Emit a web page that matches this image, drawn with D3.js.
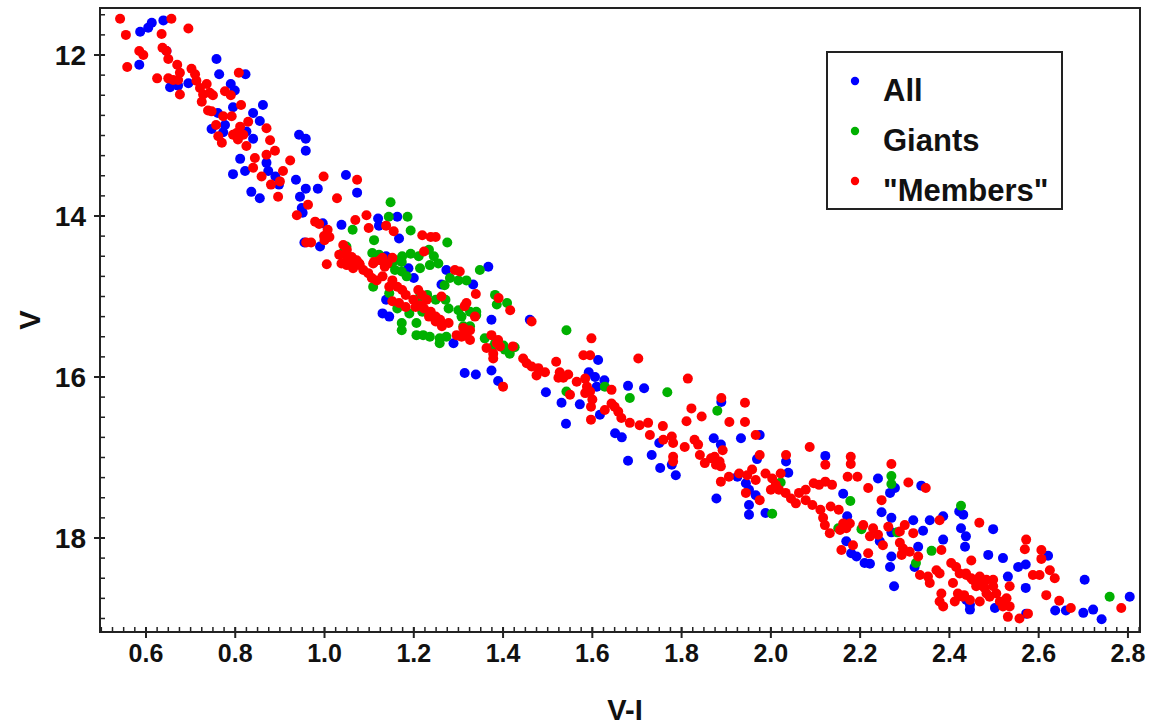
<!DOCTYPE html>
<html><head><meta charset="utf-8">
<script src="https://cdn.jsdelivr.net/npm/d3@7"></script>
<style>body{margin:0;background:#fff}svg{display:block}text{font-family:"Liberation Sans",Arial,sans-serif;font-weight:bold;fill:#111}</style>
</head><body><svg id="c" width="1155" height="728"></svg>
<script>
// ---- data (V-I, V) ----
const allPoints = [
[0.613,11.60],[0.587,11.71],[0.605,11.66],[0.639,11.57],[0.646,11.95],[0.585,12.12],[0.758,12.05],[0.654,12.40],[0.672,12.38],[0.695,12.35],[0.823,12.24],[0.764,12.24],[0.79,12.36],[0.799,12.44],[0.761,12.72],[0.795,12.65],[0.862,12.62],[0.84,12.72],[0.855,12.82],[0.747,12.92],[0.777,12.87],[0.825,12.95],[0.84,13.04],[0.773,12.96],[0.811,13.29],[0.822,13.44],[0.87,13.34],[0.795,13.48],[0.874,13.44],[0.943,12.99],
[0.958,13.04],[0.958,13.19],[0.89,13.51],[0.898,13.61],[0.836,13.70],[0.855,13.78],[0.936,13.55],[0.958,13.66],[0.945,13.76],[0.985,13.66],[1.048,13.49],[1.073,13.71],[0.949,13.90],[0.951,13.96],[0.996,14.09],[1.038,14.11],[1.12,14.03],[1.122,14.12],[1.163,14.01],[1.167,14.28],[0.955,14.33],[0.99,14.38],[1.138,14.5],
[1.367,14.63],[1.273,14.67],[1.262,14.85],[1.333,14.85],[1.188,14.65],[1.2,14.77],[1.138,15.04],[1.13,15.21],[1.145,15.25],[1.374,15.29],[1.289,15.58],
[1.46,15.29],[1.374,15.92],[1.389,16.05],[1.314,15.95],[1.339,15.97],[1.613,15.79],[1.592,15.94],[1.606,16.0],[1.627,16.04],[1.68,16.11],[1.716,16.14],[1.496,16.19],[1.531,16.32],[1.572,16.34],[1.617,16.47],[1.541,16.58],[1.61,16.12],
[1.75,16.82],[1.733,16.97],[1.752,17.13],[1.787,17.22],[1.778,17.09],[1.872,16.76],[1.888,16.84],[1.933,16.76],[1.975,16.72],[1.969,17.02],[2.034,17.05],[2.039,17.19],[2.122,16.98],[1.925,17.24],[1.944,17.32],[1.951,17.40],[1.966,17.47],[1.878,17.51],[1.951,17.59],[1.951,17.71],[1.988,17.69],[2.162,17.45],[2.171,17.73],[1.889,16.31],
[2.24,17.26],[2.278,17.38],[2.267,17.44],[2.337,17.35],[2.248,17.68],[2.27,17.75],[2.319,17.78],[2.356,17.78],[2.386,17.73],[2.341,17.91],[2.422,17.67],[2.431,17.71],[2.27,17.93],[2.169,18.04],[2.18,18.19],[2.192,18.23],[2.21,18.31],[2.222,18.32],[2.27,18.23],[2.267,18.36],[2.276,18.6],[2.244,18.04],[2.322,18.36],[2.33,18.11],[2.386,18.02],[2.426,17.88],[2.437,17.98],[2.435,18.11],[2.487,18.21],[2.438,18.77],[2.446,18.89],
[2.498,17.89],[2.621,18.22],[2.52,18.25],[2.554,18.36],[2.571,18.33],[2.531,18.48],[2.571,18.62],[2.637,18.9],[2.661,18.9],[2.703,18.52],[2.7,18.93],[2.722,18.89],[2.741,19.01],[2.804,18.73],[2.446,18.83],[2.502,18.87],[2.572,18.94],
[1.651,16.70],[1.666,16.75],[1.68,17.04]
];
const giantsPoints = [
[1.063,14.17],[1.148,13.83],[1.144,14.01],[1.186,14.01],[1.193,14.18],[1.111,14.30],[1.049,14.38],[1.041,14.46],[1.107,14.46],[1.122,14.48],[1.159,14.55],[1.174,14.5],[1.193,14.47],[1.211,14.5],[1.234,14.42],[1.245,14.5],[1.236,14.61],[1.255,14.59],
[1.275,14.33],[1.348,14.67],[1.281,14.77],[1.3,14.8],[1.318,14.8],[1.269,14.86],[1.15,14.59],[1.173,14.57],[1.158,14.67],[1.173,14.69],[1.184,14.75],[1.214,14.65],[1.109,14.88],[1.145,14.96],[1.214,15.0],[1.23,14.98],[1.249,15.04],[1.271,15.04],[1.163,15.15],[1.19,15.21],[1.219,15.19],[1.278,15.15],[1.3,15.17],[1.307,15.25],[1.326,15.19],[1.311,15.37],[1.326,15.37],[1.382,14.98],[1.386,15.1],[1.409,15.08],[1.173,15.33],[1.173,15.42],[1.206,15.33],[1.206,15.48],[1.221,15.48],[1.236,15.5],[1.258,15.52],[1.273,15.5],[1.258,15.58],[1.359,15.52],[1.382,15.58],[1.404,15.66],[1.415,15.71],[1.374,15.64],
[1.34,15.19],[1.34,15.23],[1.401,15.61],[1.426,15.63],[1.542,15.42],[1.628,16.12],[1.768,16.19],[1.684,16.26],[1.542,16.18],
[1.88,16.42],[2.003,17.7],[2.022,17.31],[2.178,17.54],
[2.27,17.23],[2.27,17.33],[2.151,17.88],[2.203,17.89],[2.283,17.93],[2.325,18.31],[2.36,18.16],[2.426,17.6],
[2.759,18.73]
];
const membersPoints = [
[0.542,11.55],[0.657,11.55],[0.555,11.75],[0.635,11.74],[0.695,11.67],[0.585,11.95],[0.594,12.0],[0.637,11.91],[0.646,11.95],[0.65,12.05],[0.558,12.15],[0.67,12.12],[0.676,12.22],[0.672,12.31],[0.702,12.17],[0.71,12.24],[0.713,12.32],[0.625,12.29],[0.65,12.29],[0.661,12.31],[0.676,12.49],[0.721,12.41],[0.736,12.36],[0.743,12.47],[0.75,12.50],[0.728,12.49],[0.725,12.58],[0.808,12.22],[0.777,12.45],[0.79,12.50],[0.739,12.69],[0.747,12.70],[0.813,12.62],[0.773,12.76],[0.792,12.76],[0.757,12.87],[0.829,12.83],[0.811,12.89],[0.803,12.97],[0.795,12.99],[0.818,12.99],[0.806,13.05],[0.87,12.91],[0.762,13.01],[0.77,13.09],[0.825,13.13],[0.878,13.06],[0.889,13.19],[0.87,13.24],[0.923,13.31],[0.844,13.28],[0.84,13.40],[0.907,13.44],[0.859,13.51],
[0.88,13.61],[0.90,13.57],[0.896,13.76],[0.998,13.51],[1.073,13.55],[1.028,13.78],[0.963,13.86],[0.938,13.99],[0.979,14.07],[0.988,14.10],[1.007,14.17],[0.999,14.25],[1.011,14.26],[1.069,14.05],[1.094,13.99],[1.099,14.15],[1.138,14.12],[1.155,14.19],[1.219,14.24],[1.238,14.26],[1.249,14.26],[0.959,14.33],[0.97,14.33],[1.0,14.3],[1.033,14.48],[1.049,14.5],[1.067,14.55],[1.005,14.6],[1.111,14.57],[1.13,14.52],[1.141,14.59],[1.152,14.52],[1.223,14.44],[1.059,14.59],[1.078,14.59],
[1.042,14.36],[1.05,14.42],[1.061,14.51],[1.072,14.55],[1.079,14.61],[1.087,14.67],[1.098,14.71],[1.106,14.77],[1.117,14.8],[1.109,14.59],[1.124,14.55],[1.135,14.63],[1.05,14.61],[1.064,14.65],[1.038,14.59],
[1.292,14.67],[1.303,14.69],[1.13,14.75],[1.152,14.8],[1.145,14.88],[1.163,14.88],[1.174,14.92],[1.182,14.98],[1.21,14.92],[1.218,14.98],[1.199,15.04],[1.214,15.11],[1.229,15.04],[1.262,15.0],[1.152,15.06],[1.167,15.08],[1.182,15.13],[1.204,15.13],[1.223,15.15],[1.238,15.19],[1.249,15.25],[1.259,15.29],[1.278,15.33],[1.234,15.25],[1.249,15.31],[1.263,15.37],[1.318,15.08],[1.314,15.12],[1.337,15.25],[1.39,15.02],[1.416,15.17],[1.296,15.48],[1.307,15.5],[1.318,15.48],[1.326,15.54],[1.363,15.64],[1.378,15.71],[1.386,15.58],[1.393,15.62],[1.422,15.62],
[1.339,14.97],[1.464,15.31],[1.311,15.39],[1.326,15.42],[1.374,15.48],[1.389,15.54],[1.378,15.77],[1.4,16.12],[1.598,15.52],[1.445,15.77],[1.453,15.83],[1.464,15.87],[1.479,15.89],[1.494,15.94],[1.475,15.98],[1.519,15.81],[1.527,15.94],[1.524,16.01],[1.535,16.01],[1.546,15.97],[1.58,15.73],[1.595,15.73],[1.703,15.77],[1.565,16.06],[1.584,16.02],[1.588,16.12],[1.595,16.18],[1.584,16.2],[1.6,16.28],[1.597,16.37],[1.643,16.16],[1.55,16.22],[1.628,16.41],[1.643,16.33],[1.65,16.37],[1.658,16.43],[1.665,16.51],[1.684,16.57],[1.706,16.6],[1.725,16.57],[1.758,16.61],[1.597,16.53],
[1.814,16.02],[1.889,16.26],[1.942,16.32],[1.822,16.39],[1.845,16.49],[1.811,16.55],[1.907,16.56],[1.942,16.56],[1.729,16.72],[1.778,16.74],[1.759,16.78],[1.781,16.82],[1.781,16.99],[1.781,17.05],[1.807,16.87],[1.829,16.78],[1.837,16.84],[1.841,16.97],[1.852,17.07],[1.866,17.01],[1.874,16.99],[1.885,17.05],[1.877,17.09],[1.892,16.91],[1.888,17.11],[1.966,16.72],[2.087,16.87],[1.975,16.97],[2.034,16.97],[2.122,17.09],[2.179,16.99],[2.179,17.08],[2.172,17.24],[2.194,17.24],[1.888,17.3],[1.906,17.24],[1.929,17.2],[1.947,17.22],[1.958,17.15],[1.966,17.28],[1.988,17.2],[2.003,17.26],[2.022,17.2],[2.011,17.34],[2.0,17.4],[2.018,17.4],[2.033,17.44],[2.045,17.51],[2.056,17.57],[2.063,17.44],[2.078,17.4],[2.096,17.32],[2.108,17.34],[2.122,17.3],[2.137,17.34],[2.078,17.53],[2.093,17.59],[2.111,17.65],[2.134,17.61],[2.152,17.65],[1.944,17.44],[1.975,17.53],
[2.27,17.08],[2.218,17.38],[2.308,17.31],[2.347,17.38],[2.248,17.53],[2.378,17.78],[2.467,17.81],[2.117,17.75],[2.121,17.84],[2.132,17.94],[2.162,17.82],[2.169,17.88],[2.177,17.82],[2.155,17.90],[2.207,17.84],[2.229,17.88],[2.222,17.98],[2.24,17.96],[2.251,18.09],[2.263,17.86],[2.289,17.92],[2.30,17.84],[2.319,17.94],[2.158,18.15],[2.184,18.09],[2.218,18.19],[2.289,18.06],[2.296,18.13],[2.293,18.21],[2.311,18.17],[2.33,18.23],[2.382,18.15],[2.449,18.28],[2.334,18.46],[2.352,18.48],[2.371,18.4],[2.378,18.44],[2.356,18.56],[2.382,18.69],[2.378,18.79],[2.386,18.85],[2.404,18.31],[2.415,18.36],[2.423,18.44],[2.408,18.56],[2.438,18.46],[2.449,18.5],[2.46,18.56],[2.468,18.5],[2.475,18.6],[2.483,18.69],[2.419,18.69],[2.43,18.73],[2.412,18.79],[2.446,18.77],[2.468,18.79],
[2.572,18.02],[2.569,18.14],[2.606,18.15],[2.606,18.26],[2.587,18.46],[2.602,18.46],[2.625,18.40],[2.636,18.50],[2.535,18.6],[2.617,18.71],[2.646,18.78],[2.672,18.87],[2.785,18.87],[2.437,18.44],[2.452,18.52],[2.468,18.48],[2.483,18.52],[2.498,18.52],[2.46,18.6],[2.479,18.62],[2.498,18.6],[2.49,18.73],[2.505,18.69],[2.513,18.79],[2.528,18.75],[2.535,18.85],[2.52,18.85],[2.531,18.98],[2.557,19.0],[2.576,18.94],[2.422,18.72],[2.433,18.71]
];
const xTicks = [0.6,0.8,1.0,1.2,1.4,1.6,1.8,2.0,2.2,2.4,2.6,2.8];
const yTicks = [12,14,16,18];
const seriesNames = ["All","Giants","\"Members\""];
const seriesColors = ["#0000ff","#00b000","#ff0000"];
const xDomain = [0.497, 2.827];
const yDomain = [11.416, 19.168];

// ---- layout ----
const L = 100, R = 1140, T = 8, B = 632;
const svg = d3.select("#c");
const x = d3.scaleLinear().domain(xDomain).range([L, R]);
const y = d3.scaleLinear().domain(yDomain).range([T, B]);

// points
const sets = [allPoints, giantsPoints, membersPoints];
sets.forEach((pts, i) => {
  svg.append("g").selectAll("circle").data(pts).join("circle")
    .attr("cx", d => x(d[0])).attr("cy", d => y(d[1])).attr("r", 5)
    .attr("fill", seriesColors[i]);
});

// frame
svg.append("rect").attr("x", L).attr("y", T).attr("width", R - L).attr("height", B - T)
  .attr("fill", "none").attr("stroke", "#222").attr("stroke-width", 2);

// x axis minor + major ticks
const xMinor = d3.range(0.5, 2.826, 0.025);
const gx = svg.append("g");
gx.selectAll("line.mn").data(xMinor).join("line")
  .attr("x1", d => x(d)).attr("x2", d => x(d)).attr("y1", B).attr("y2", B - 5)
  .attr("stroke", "#222").attr("stroke-width", 1.5);
gx.selectAll("line.mj").data(xTicks).join("line")
  .attr("x1", d => x(d)).attr("x2", d => x(d)).attr("y1", B - 5).attr("y2", B + 6)
  .attr("stroke", "#222").attr("stroke-width", 2);
gx.selectAll("text").data(xTicks).join("text")
  .attr("x", d => x(d)).attr("y", B + 30).attr("text-anchor", "middle")
  .attr("font-size", 25).text(d => d.toFixed(1));

// y axis
const yMinor = d3.range(11.5, 19.16, 0.25);
const gy = svg.append("g");
gy.selectAll("line.mn").data(yMinor).join("line")
  .attr("x1", L).attr("x2", L + 5).attr("y1", d => y(d)).attr("y2", d => y(d))
  .attr("stroke", "#222").attr("stroke-width", 1.5);
gy.selectAll("line.mj").data(yTicks).join("line")
  .attr("x1", L - 6).attr("x2", L + 5).attr("y1", d => y(d)).attr("y2", d => y(d))
  .attr("stroke", "#222").attr("stroke-width", 2);
gy.selectAll("text").data(yTicks).join("text")
  .attr("x", L - 14).attr("y", d => y(d) + 10).attr("text-anchor", "end")
  .attr("font-size", 28).text(d => d);

// axis titles
svg.append("text").attr("x", (L + R) / 2 + 5).attr("y", 720).attr("text-anchor", "middle")
  .attr("font-size", 29).text("V-I");
svg.append("text").attr("transform", `translate(40,${(T + B) / 2}) rotate(-90)`)
  .attr("text-anchor", "middle").attr("font-size", 29).text("V");

// legend
const lg = svg.append("g");
lg.append("rect").attr("x", 827).attr("y", 52).attr("width", 235).attr("height", 157)
  .attr("fill", "#fff").attr("stroke", "#222").attr("stroke-width", 2);
seriesNames.forEach((n, i) => {
  lg.append("circle").attr("cx", 855).attr("cy", 81 + i * 50).attr("r", 4.2).attr("fill", seriesColors[i]);
  lg.append("text").attr("x", 883).attr("y", 101 + i * 50).attr("font-size", 31).text(n);
});
</script></body></html>
